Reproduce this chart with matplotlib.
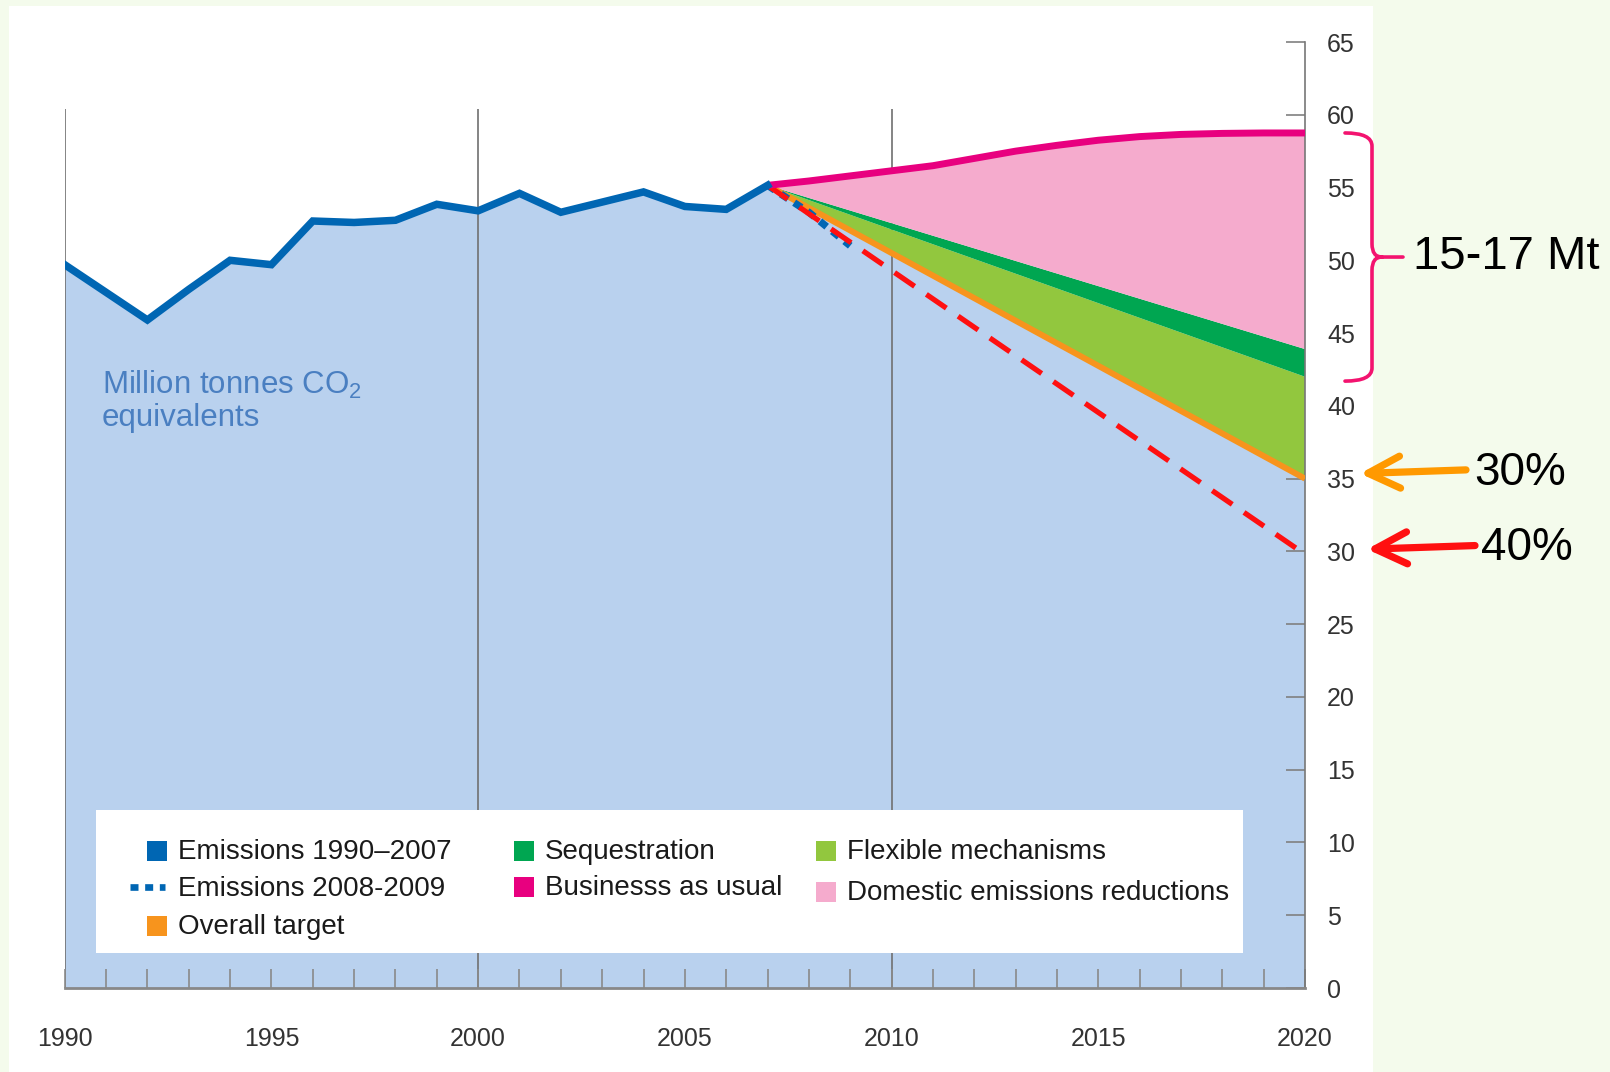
import matplotlib

matplotlib.use("Agg")
import matplotlib.pyplot as plt  # noqa: E402
from matplotlib.lines import Line2D  # noqa: E402
from matplotlib.patches import PathPatch, Rectangle  # noqa: E402
from matplotlib.path import Path  # noqa: E402
from matplotlib.transforms import blended_transform_factory  # noqa: E402

# ---- data (Mt CO2 equivalents) ----
hist_years = list(range(1990, 2008))
hist_emissions = [49.7, 47.8, 45.9, 48.0, 50.0, 49.7, 52.7, 52.6, 52.75, 53.85,
                  53.4, 54.6, 53.3, 54.0, 54.7, 53.7, 53.5, 55.15]
recent_years = [2007, 2008, 2009]
recent_emissions = [55.15, 53.3, 51.0]
bau_years = list(range(2007, 2021))
bau = [55.15, 55.45, 55.8, 56.15, 56.5, 57.0, 57.5, 57.9, 58.25, 58.5,
       58.65, 58.72, 58.75, 58.75]
path_years = [2007, 2020]
target_30 = [55.15, 35.0]
flexible_top = [55.15, 42.0]
sequestration_top = [55.15, 43.9]
target_40 = [55.15, 29.8]

x_ticks = list(range(1990, 2021, 5))
y_ticks = list(range(0, 66, 5))

legend_labels = ["Emissions 1990\u20132007", "Emissions 2008-2009", "Overall target",
                 "Sequestration", "Businesss as usual",
                 "Flexible mechanisms", "Domestic emissions reductions"]

# ---- palette ----
C_BLUE = "#0066b3"
C_FILL = "#b9d1ee"
C_DKGREEN = "#00a651"
C_LTGREEN = "#92c73e"
C_BAU = "#e8007f"
C_PINK = "#f5abcd"
C_ORANGE = "#f7941d"
C_RED = "#ff1010"
C_LABEL = "#4a7fc1"
C_BG = "#f4fbec"

plt.rcParams.update({
    "font.family": ["Liberation Sans", "DejaVu Sans"],
    "mathtext.fontset": "custom",
    "mathtext.rm": "Liberation Sans",
})

W, H = 1610, 1072


def fx(x):
    return x / W


def fy(y):
    return 1 - y / H


fig = plt.figure(figsize=(W / 100, H / 100), dpi=100, facecolor=C_BG)
fig.patches.append(Rectangle((fx(9), 0), fx(1373 - 9), 1 - 6 / H,
                             transform=fig.transFigure, facecolor="white",
                             edgecolor="none", zorder=-1))
ax = fig.add_axes([fx(64.7), fy(988), fx(1305 - 64.7), (988 - 42) / H])
ax.set_facecolor("white")
ax.set_xlim(1990, 2020)
ax.set_ylim(0, 65)

# bands
ax.fill(hist_years + [path_years[1], 2020, 1990],
        hist_emissions + [target_30[1], 0, 0], color=C_FILL, lw=0, zorder=1)
ax.fill(path_years + path_years[::-1], flexible_top + target_30[::-1],
        color=C_LTGREEN, lw=0, zorder=2)
ax.fill(path_years + path_years[::-1], sequestration_top + flexible_top[::-1],
        color=C_DKGREEN, lw=0, zorder=2)
ax.fill(bau_years + path_years[::-1], bau + sequestration_top[::-1],
        color=C_PINK, lw=0, zorder=2)

ax.vlines([1990, 2000, 2010], 0, 60.4, color="#707070", lw=1.2, zorder=1.2)

ax.plot(path_years, target_30, color=C_ORANGE, lw=4.3, zorder=3,
        solid_capstyle="butt")
ax.plot(recent_years, recent_emissions, color=C_BLUE, lw=5.2, zorder=3.5,
        dashes=(1.2, 1.0))
ax.plot(path_years, target_40, color=C_RED, lw=3.8, zorder=4, dashes=(4.6, 2.7))
ax.plot(bau_years, bau, color=C_BAU, lw=5.0, zorder=4, solid_capstyle="butt")
ax.plot(hist_years, hist_emissions, color=C_BLUE, lw=5.4, zorder=5,
        solid_joinstyle="miter")

# axes styling
for side in ("top", "left"):
    ax.spines[side].set_visible(False)
ax.spines["right"].set_bounds(0, 65)
ax.spines["right"].set_color("#777777")
ax.spines["right"].set_linewidth(1.2)
ax.spines["bottom"].set_color("#888888")
ax.spines["bottom"].set_linewidth(2)

ax.set_xticks(x_ticks)
ax.set_xticks(range(1990, 2021), minor=True)
ax.tick_params(axis="x", which="both", direction="in", length=14, width=1.2,
               color="#8a8a8a")
ax.tick_params(axis="x", which="major", labelsize=18, labelcolor="#333333",
               pad=28)
ax.yaxis.tick_right()
ax.set_yticks(y_ticks)
ax.tick_params(axis="y", direction="in", length=14, width=1.2, color="#808080",
               labelsize=18, labelcolor="#333333", pad=16)

fig.text(fx(102), fy(426), "Million tonnes CO$_2$\nequivalents", fontsize=22.5,
         color=C_LABEL, va="baseline", ha="left", linespacing=1.1)

# ---- legend ----
fig.patches.append(Rectangle((fx(95.5), fy(953)), fx(1242.5 - 95.5), (953 - 810) / H,
                             transform=fig.transFigure, facecolor="white",
                             edgecolor="none", zorder=5))
legend_colors = [C_BLUE, None, C_ORANGE, C_DKGREEN, C_BAU, C_LTGREEN, C_PINK]
legend_pos = [(147, 852), (147, 889), (147, 927), (514, 852), (514, 888),
              (816, 852), (816, 893)]
for label, color, (px, py) in zip(legend_labels, legend_colors, legend_pos):
    if color is None:
        fig.add_artist(Line2D([fx(130), fx(165)], [fy(py - 2), fy(py - 2)],
                              color=C_BLUE, lw=4.8, dashes=(1.2, 1.0), zorder=6))
    else:
        fig.patches.append(Rectangle((fx(px), fy(py + 9)), fx(20), 20 / H,
                                     transform=fig.transFigure, facecolor=color,
                                     edgecolor="none", zorder=6))
    fig.text(fx(px + 31), fy(py), label, fontsize=20, color="#1a1a1a",
             va="center", ha="left", zorder=7)

# ---- annotations right of the axis ----
mix = blended_transform_factory(fig.transFigure, ax.transData)
y_top, y_bot = bau[-1], flexible_top[1] - 0.3
y_mid = (y_top + y_bot) / 2
xe, xm, xt = fx(1345), fx(1372), fx(1403)
d = 0.9
verts = [(xe, y_top), (xm, y_top), (xm, y_top - d),
         (xm, y_mid + d), (xm, y_mid), (xm + fx(10), y_mid), (xt, y_mid),
         (xm + fx(10), y_mid), (xm, y_mid), (xm, y_mid - d),
         (xm, y_bot + d), (xm, y_bot), (xe, y_bot)]
codes = [Path.MOVETO, Path.CURVE3, Path.CURVE3,
         Path.LINETO, Path.CURVE3, Path.CURVE3, Path.LINETO,
         Path.MOVETO, Path.CURVE3, Path.CURVE3,
         Path.LINETO, Path.CURVE3, Path.CURVE3]
fig.add_artist(PathPatch(Path(verts, codes), transform=mix, facecolor="none",
                         edgecolor="#f3136f", lw=2.6, clip_on=False,
                         capstyle="round"))
fig.text(fx(1413), y_mid, "15-17 Mt", transform=mix, fontsize=34,
         va="center", ha="left", color="black")

for end, x_tip, x_tail, x_txt, txt, color in [
        (target_30[1], 1360, 1466, 1474, "30%", "#ff9900"),
        (target_40[1], 1367, 1475, 1481, "40%", C_RED)]:
    ax.annotate("", xy=(fx(x_tip), end + 0.35), xytext=(fx(x_tail), end + 0.6),
                xycoords=("figure fraction", "data"),
                textcoords=("figure fraction", "data"),
                arrowprops=dict(arrowstyle="->, head_length=2.3, head_width=1.15",
                                color=color, lw=5.2, mutation_scale=10,
                                shrinkA=0, shrinkB=0, capstyle="round",
                                joinstyle="round"),
                annotation_clip=False)
    fig.text(fx(x_txt), end + 0.4, txt, transform=mix, fontsize=33,
             va="center", ha="left", color="black")

fig.savefig("out.png", dpi=100, facecolor=C_BG)
